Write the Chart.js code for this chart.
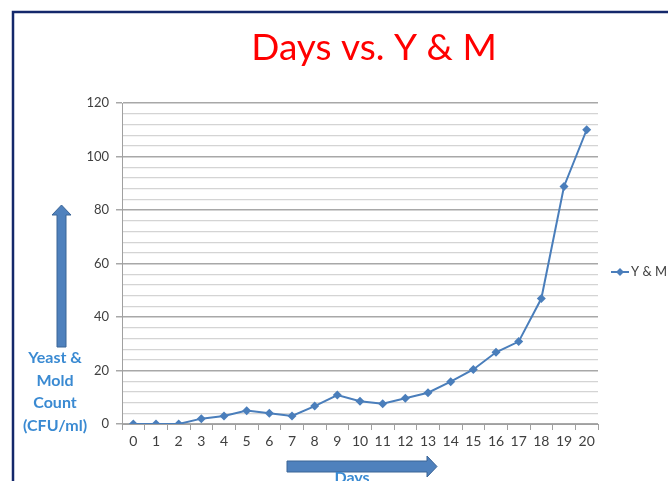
<!DOCTYPE html>
<html>
<head>
<meta charset="utf-8">
<script src="https://cdn.jsdelivr.net/npm/chart.js@4.4.1/dist/chart.umd.min.js"></script>
<style>
html,body{margin:0;padding:0;background:#fff;}
#wrap{width:668px;height:481px;position:relative;}
</style>
</head>
<body>
<div id="wrap"><canvas id="c" width="668" height="481"></canvas></div>
<script>
var days = ['0','1','2','3','4','5','6','7','8','9','10','11','12','13','14','15','16','17','18','19','20'];
var ymCount = [0,0,0,2,3,5,4,3,6.7,10.8,8.5,7.6,9.6,11.7,15.8,20.4,26.8,30.8,46.9,88.8,110];
var seriesName = 'Y & M';
var chartTitle = 'Days vs. Y & M';
var yTitle = ['Yeast &','Mold','Count','(CFU/ml)'];
var xTitle = 'Days';

var lineBlue = '#4a7ebb';
var labelBlue = '#3a8ad2';

// border, title, arrows, axis titles and legend
var deco = {
	id: 'deco',
	beforeDraw: function(chart){
		var ctx = chart.ctx;
		ctx.save();
		ctx.fillStyle = '#fff';
		ctx.fillRect(0,0,chart.width,chart.height);
		ctx.restore();
	},
	afterDraw: function(chart){
		var ctx = chart.ctx;
		ctx.save();
		// frame
		ctx.strokeStyle = '#14286b';
		ctx.lineWidth = 2.5;
		ctx.beginPath();
		ctx.moveTo(13,490); ctx.lineTo(13,12); ctx.lineTo(680,12);
		ctx.stroke();
		// title
		ctx.fillStyle = '#ff0000';
		ctx.font = '37px Lato';
		ctx.textAlign = 'center';
		ctx.textBaseline = 'alphabetic';
		ctx.fillText(chartTitle, 374, 60);
		// up arrow
		ctx.fillStyle = '#4f81bd';
		ctx.strokeStyle = '#3a6496';
		ctx.lineWidth = 1;
		ctx.beginPath();
		ctx.moveTo(57,347); ctx.lineTo(57,215); ctx.lineTo(52,215); ctx.lineTo(61.5,205);
		ctx.lineTo(71,215); ctx.lineTo(66,215); ctx.lineTo(66,347); ctx.closePath();
		ctx.fill(); ctx.stroke();
		// right arrow
		ctx.beginPath();
		ctx.moveTo(287,461); ctx.lineTo(427,461); ctx.lineTo(427,456); ctx.lineTo(437,466.5);
		ctx.lineTo(427,477); ctx.lineTo(427,472); ctx.lineTo(287,472); ctx.closePath();
		ctx.fill(); ctx.stroke();
		// axis titles
		ctx.fillStyle = labelBlue;
		ctx.font = 'bold 16px Lato';
		ctx.textAlign = 'center';
		ctx.textBaseline = 'middle';
		for(var i=0;i<yTitle.length;++i){
			ctx.fillText(yTitle[i], 55, 358 + i*22.5);
		}
		ctx.fillText(xTitle, 352, 478);
		// legend
		ctx.strokeStyle = lineBlue;
		ctx.lineWidth = 2;
		ctx.beginPath(); ctx.moveTo(611,272); ctx.lineTo(629,272); ctx.stroke();
		ctx.fillStyle = lineBlue;
		ctx.beginPath();
		ctx.moveTo(620,268); ctx.lineTo(624,272); ctx.lineTo(620,276); ctx.lineTo(616,272); ctx.closePath();
		ctx.fill();
		ctx.fillStyle = '#404040';
		ctx.font = '13px Lato';
		ctx.textAlign = 'left';
		ctx.fillText(seriesName, 631, 272);
		ctx.restore();
	}
};

new Chart(document.getElementById('c').getContext('2d'), {
	type: 'line',
	data: {
		labels: days,
		datasets: [{
			label: seriesName,
			data: ymCount,
			borderColor: lineBlue,
			backgroundColor: lineBlue,
			borderWidth: 2,
			pointStyle: 'rectRot',
			pointRadius: 4.5,
			pointBorderWidth: 0,
			tension: 0
		}]
	},
	options: {
		responsive: false,
		animation: false,
		layout: {padding: {left: 0, right: 70, top: 103, bottom: 0}},
		plugins: {
			legend: {display: false},
			title: {display: false},
			tooltip: {enabled: false}
		},
		scales: {
			x: {
				offset: true,
				afterFit: function(s){ s.height = 57; },
				border: {color: '#a0a0a0', width: 1},
				grid: {offset: true, drawOnChartArea: false, tickLength: 6, color: '#a0a0a0'},
				ticks: {color: '#404040', font: {family: 'Lato', size: 14}, padding: 3, maxRotation: 0, autoSkip: false}
			},
			y: {
				min: 0,
				max: 120,
				afterFit: function(s){ s.width = 122; },
				border: {color: '#a0a0a0', width: 1},
				grid: {
					color: function(c){ return c.tick.value % 20 === 0 ? '#a8a8a8' : '#d4d4d4'; },
					tickColor: function(c){ return c.tick.value % 20 === 0 ? '#a8a8a8' : 'rgba(0,0,0,0)'; },
					lineWidth: function(c){ return c.tick.value % 20 === 0 ? 1.5 : 1.2; },
					tickLength: 6
				},
				ticks: {
					stepSize: 4,
					maxTicksLimit: 40,
					autoSkip: false,
					color: '#404040',
					font: {family: 'Lato', size: 13},
					padding: 7,
					callback: function(v){ return v % 20 === 0 ? v : ''; }
				}
			}
		}
	},
	plugins: [deco]
});
</script>
</body>
</html>
